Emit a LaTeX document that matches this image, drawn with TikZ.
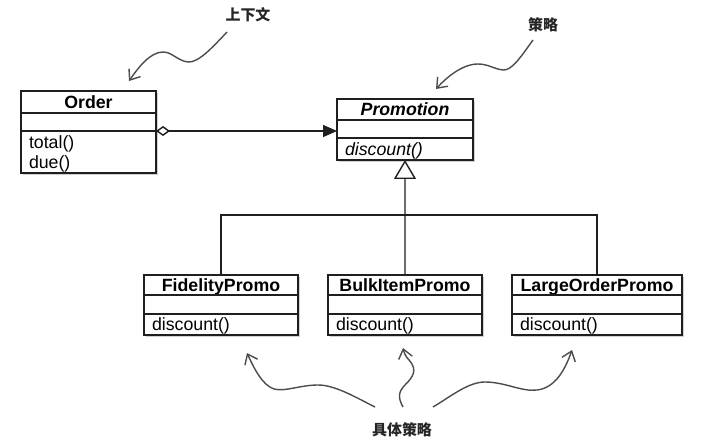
\documentclass[tikz,border=0pt]{standalone}
\usepackage{fontspec}
\setmainfont{Liberation Sans}
\newfontfamily\cjk{Noto Sans CJK SC}
\usetikzlibrary{arrows.meta,shadows}
\begin{document}
\begin{tikzpicture}[x=1bp,y=-1bp,
  umlbox/.style={draw=black!88, line width=1.5bp, fill=white, inner xsep=8bp, inner ysep=0pt,
    outer sep=0pt, anchor=north west, text height=12.5bp, text depth=0pt,
    drop shadow={shadow xshift=1.5bp, shadow yshift=-1.8bp, opacity=0.3, fill=black!60}},
  umlname/.style={umlbox, font=\bfseries\fontsize{17.8}{20}\selectfont, align=center},
  umlbody/.style={umlbox, font=\fontsize{17.8}{20}\selectfont, align=left},
  genline/.style={draw=black!88, line width=1.4bp},
  notearrow/.style={draw=black!70, line width=1.4bp, -{Straight Barb[length=9bp,width=14bp]}},
  notelabel/.style={font=\cjk\bfseries\fontsize{15}{15}\selectfont, text=black!85, inner sep=1bp}
]
\fill[white] (0,0) rectangle (710,444);
\useasboundingbox (0,0) rectangle (710,444);

% Order
\node[umlname, minimum width=135bp, minimum height=22bp] (ordH) at (21,91) {Order};
\node[umlbody, text width=119bp, minimum height=18bp] (ordA) at (ordH.south west) {};
\node[umlbody, text width=119bp, minimum height=42bp, text depth=20bp] (ordM) at (ordA.south west) {total()\\due()};

% Promotion
\node[umlname, minimum width=136bp, minimum height=21bp, font=\bfseries\itshape\fontsize{17.8}{20}\selectfont] (promH) at (337,99) {Promotion};
\node[umlbody, text width=120bp, minimum height=18bp] (promA) at (promH.south west) {};
\node[umlbody, text width=120bp, minimum height=22bp, font=\itshape\fontsize{17.8}{20}\selectfont] (promM) at (promA.south west) {discount()};

% FidelityPromo
\node[umlname, minimum width=154bp, minimum height=20bp] (fidH) at (144,275) {FidelityPromo};
\node[umlbody, text width=138bp, minimum height=19bp] (fidA) at (fidH.south west) {};
\node[umlbody, text width=138bp, minimum height=21bp] (fidM) at (fidA.south west) {discount()};

% BulkItemPromo
\node[umlname, minimum width=154bp, minimum height=20bp] (bulkH) at (328,275) {BulkItemPromo};
\node[umlbody, text width=138bp, minimum height=19bp] (bulkA) at (bulkH.south west) {};
\node[umlbody, text width=138bp, minimum height=21bp] (bulkM) at (bulkA.south west) {discount()};

% LargeOrderPromo
\node[umlname, minimum width=170bp, minimum height=20bp] (lopH) at (512,275) {LargeOrderPromo};
\node[umlbody, text width=154bp, minimum height=19bp] (lopA) at (lopH.south west) {};
\node[umlbody, text width=154bp, minimum height=21bp] (lopM) at (lopA.south west) {discount()};

% aggregation
\draw[genline, {Diamond[open, length=14bp, width=10bp]}-{Triangle[length=14bp, width=12bp]}]
  (ordA.south east) -- (ordA.south east -| promA.west);

% generalization
\coordinate (bus) at (405,215);
\draw[genline] (fidH.north) |- (bus) -| (lopH.north);
\draw[genline, -{Triangle[open, length=19bp, width=22bp]}] (bulkH.north) -- (promM.south);

% annotation labels
\node[notelabel] (ctx) at (248,15) {上下文};
\node[notelabel] (strat) at (543,25) {策略};
\node[notelabel] (conc) at (402,430) {具体策略};

% annotation arrows
\coordinate (ctxS) at (227,32);
\coordinate (ctxE) at (129,81);
\draw[notearrow] (ctxS) .. controls (212,48) and (198,63) .. (188,62)
  .. controls (178,61) and (172,52) .. (163,52)
  .. controls (150,52) and (138,68) .. (ctxE);

\coordinate (stratS) at (533,40);
\coordinate (stratE) at (436,89);
\draw[notearrow] (stratS) .. controls (522,55) and (512,71) .. (503,70)
  .. controls (494,69) and (488,64) .. (478,64)
  .. controls (462,64) and (446,78) .. (stratE);

\coordinate (c1S) at (375,407);
\coordinate (c1E) at (247,353);
\draw[notearrow] (c1S) .. controls (355,397) and (335,385) .. (318,385)
  .. controls (300,385) and (285,392) .. (274,389)
  .. controls (262,385) and (254,368) .. (c1E);

\coordinate (c2S) at (403,407);
\coordinate (c2E) at (403,348);
\draw[notearrow] (c2S) .. controls (398,398) and (398,392) .. (405,385)
  .. controls (413,377) and (418,370) .. (409,360)
  .. controls (405,356) and (404,352) .. (c2E);

\coordinate (c3S) at (433,407);
\coordinate (c3E) at (572,350);
\draw[notearrow] (c3S) .. controls (450,397) and (468,382) .. (485,382)
  .. controls (505,382) and (522,392) .. (537,390)
  .. controls (555,388) and (565,370) .. (c3E);
\end{tikzpicture}
\end{document}
